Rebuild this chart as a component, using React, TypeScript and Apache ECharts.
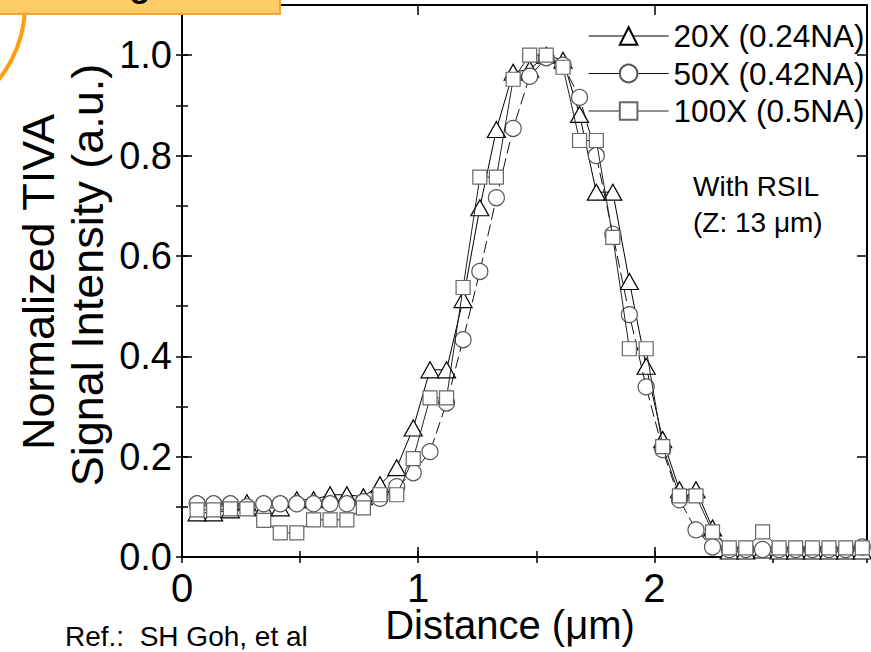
import React, { useEffect, useRef } from "react";
import * as echarts from "echarts";

// Distance positions (µm) shared by the three series
const distance = [
  0.064, 0.134, 0.205, 0.275, 0.346, 0.416, 0.486, 0.557, 0.627, 0.698,
  0.768, 0.838, 0.909, 0.979, 1.05, 1.12, 1.19, 1.261, 1.331, 1.402,
  1.472, 1.542, 1.613, 1.683, 1.754, 1.824, 1.894, 1.965, 2.035, 2.106,
  2.176, 2.246, 2.317, 2.387, 2.458, 2.528, 2.598, 2.669, 2.739, 2.81,
  2.88,
];

// 20X (0.24NA) – triangles
const na024 = [
  0.088, 0.088, 0.094, 0.108, 0.098, 0.098, 0.114, 0.114, 0.124, 0.124,
  0.12, 0.144, 0.178, 0.257, 0.373, 0.373, 0.513, 0.696, 0.852, 0.966,
  0.972, 1.0, 0.99, 0.882, 0.727, 0.727, 0.549, 0.38, 0.234, 0.134,
  0.134, 0.058, 0.012, 0.012, 0.014, 0.012, 0.012, 0.012, 0.012, 0.012,
  0.012,
];

// 50X (0.42NA) – circles
const na042 = [
  0.106, 0.106, 0.106, 0.1, 0.106, 0.106, 0.106, 0.106, 0.106, 0.106,
  0.11, 0.117, 0.14, 0.168, 0.21, 0.307, 0.433, 0.569, 0.716, 0.854,
  0.958, 0.995, 0.98, 0.916, 0.8, 0.643, 0.483, 0.339, 0.214, 0.114,
  0.054, 0.02, 0.015, 0.015, 0.015, 0.015, 0.015, 0.015, 0.015, 0.015,
  0.02,
];

// 100X (0.5NA) – squares
const na050 = [
  0.094, 0.094, 0.096, 0.096, 0.073, 0.048, 0.048, 0.074, 0.074, 0.074,
  0.098, 0.124, 0.124, 0.196, 0.317, 0.317, 0.537, 0.757, 0.757, 0.952,
  1.0, 1.0, 0.976, 0.83, 0.83, 0.637, 0.415, 0.415, 0.22, 0.122,
  0.122, 0.05, 0.018, 0.018, 0.05, 0.018, 0.018, 0.018, 0.018, 0.018,
  0.018,
];

const seriesNames = ["20X (0.24NA)", "50X (0.42NA)", "100X (0.5NA)"];
const yTickLabels = ["0.0", "0.2", "0.4", "0.6", "0.8", "1.0"];
const xTickLabels = ["0", "1", "2"];

const FONT = '"Liberation Sans", Arial, Helvetica, sans-serif';

export default function App() {
  const ref = useRef<HTMLDivElement>(null);

  useEffect(() => {
    if (!ref.current) return;
    const chart = echarts.init(ref.current, undefined, { renderer: "svg" });

    const pair = (ys: number[]) => distance.map((x, i) => [x, ys[i]]);

    const xCommon = {
      type: "value" as const,
      min: 0,
      max: 2.9,
      splitLine: { show: false },
    };
    const yCommon = {
      type: "value" as const,
      min: 0,
      max: 1.1,
      splitLine: { show: false },
    };
    const majorTick = { show: true, inside: true, length: 10, lineStyle: { color: "#000", width: 1.5 } };
    const minorTick = { show: true, inside: true, length: 6, lineStyle: { color: "#000", width: 1.5 } };
    const frameLine = { show: true, onZero: false, lineStyle: { color: "#000", width: 2 } };

    const option: any = {
      animation: false,
      backgroundColor: "#fff",
      grid: {
        left: 182,
        right: 4,
        top: 5,
        bottom: 95,
        containLabel: false,
        outerBoundsMode: "none",
      },
      legend: {
        data: seriesNames,
        orient: "vertical",
        left: 588,
        top: 19,
        padding: 0,
        itemWidth: 80,
        itemHeight: 22,
        itemGap: 3.5,
        selectedMode: false,
        lineStyle: { type: "solid", width: 1.2 },
        textStyle: { fontFamily: FONT, fontSize: 31.5, color: "#000", lineHeight: 34 },
      },
      xAxis: [
        {
          ...xCommon,
          position: "bottom",
          interval: 1,
          axisLine: frameLine,
          axisTick: majorTick,
          axisLabel: {
            margin: 11,
            fontFamily: FONT,
            fontSize: 40,
            color: "#000",
            formatter: (v: number) => {
              const idx = xTickLabels.indexOf(String(v));
              return idx >= 0 ? xTickLabels[idx] : "";
            },
          },
        },
        {
          ...xCommon,
          position: "bottom",
          interval: 0.5,
          axisLine: { show: false },
          axisTick: minorTick,
          axisLabel: { show: false },
        },
        {
          ...xCommon,
          position: "top",
          interval: 1,
          axisLine: frameLine,
          axisTick: majorTick,
          axisLabel: { show: false },
        },
        {
          ...xCommon,
          position: "top",
          interval: 0.5,
          axisLine: { show: false },
          axisTick: minorTick,
          axisLabel: { show: false },
        },
      ],
      yAxis: [
        {
          ...yCommon,
          position: "left",
          interval: 0.2,
          axisLine: frameLine,
          axisTick: majorTick,
          axisLabel: {
            margin: 10,
            fontFamily: FONT,
            fontSize: 38,
            color: "#000",
            formatter: (v: number) => {
              const s = v.toFixed(1);
              return yTickLabels.indexOf(s) >= 0 && v <= 1.05 ? s : "";
            },
          },
        },
        {
          ...yCommon,
          position: "left",
          interval: 0.1,
          axisLine: { show: false },
          axisTick: minorTick,
          axisLabel: { show: false },
        },
        {
          ...yCommon,
          position: "right",
          interval: 0.2,
          axisLine: frameLine,
          axisTick: majorTick,
          axisLabel: { show: false },
        },
        {
          ...yCommon,
          position: "right",
          interval: 0.1,
          axisLine: { show: false },
          axisTick: minorTick,
          axisLabel: { show: false },
        },
      ],
      series: [
        {
          name: seriesNames[0],
          type: "line",
          xAxisIndex: 0,
          yAxisIndex: 0,
          data: pair(na024),
          symbol: "triangle",
          symbolSize: [18, 16],
          itemStyle: { color: "#fff", borderColor: "#000", borderWidth: 1.2 },
          lineStyle: { color: "#000", width: 1 },
          emphasis: { disabled: true },
          silent: true,
          z: 2,
        },
        {
          name: seriesNames[1],
          type: "line",
          xAxisIndex: 0,
          yAxisIndex: 0,
          data: pair(na042),
          symbol: "circle",
          symbolSize: 16,
          itemStyle: { color: "#fff", borderColor: "#555", borderWidth: 1.2 },
          lineStyle: { color: "#111", width: 1, type: [12, 5] },
          emphasis: { disabled: true },
          silent: true,
          z: 3,
        },
        {
          name: seriesNames[2],
          type: "line",
          xAxisIndex: 0,
          yAxisIndex: 0,
          data: pair(na050),
          symbol: "rect",
          symbolSize: 14,
          itemStyle: { color: "#fff", borderColor: "#666", borderWidth: 1.2 },
          lineStyle: { color: "#222", width: 1 },
          emphasis: { disabled: true },
          silent: true,
          z: 4,
        },
      ],
      graphic: [
        {
          type: "circle",
          z: 10,
          silent: true,
          shape: { cx: -94, cy: 5, r: 119 },
          style: { fill: "none", stroke: "#FF9E0D", lineWidth: 4 },
        },
        {
          type: "rect",
          z: 11,
          silent: true,
          shape: { x: -5, y: -20, width: 285, height: 34 },
          style: { fill: "#FFCC66", stroke: "#F5A432", lineWidth: 2 },
        },
        {
          type: "text",
          z: 12,
          silent: true,
          x: 140,
          y: 2,
          style: {
            text: "g",
            fontFamily: FONT,
            fontSize: 34,
            fontWeight: "bold",
            fill: "#000",
            align: "center",
            verticalAlign: "bottom",
            textAlign: "center",
            textVerticalAlign: "bottom",
          },
        },
        {
          type: "text",
          z: 12,
          silent: true,
          x: 38,
          y: 282,
          rotation: Math.PI / 2,
          style: {
            text: "Normalized TIVA",
            fontFamily: FONT,
            fontSize: 45,
            fill: "#000",
            align: "center",
            verticalAlign: "middle",
            textAlign: "center",
            textVerticalAlign: "middle",
          },
        },
        {
          type: "text",
          z: 12,
          silent: true,
          x: 87,
          y: 275,
          rotation: Math.PI / 2,
          style: {
            text: "Signal Intensity (a.u.)",
            fontFamily: FONT,
            fontSize: 45,
            fill: "#000",
            align: "center",
            verticalAlign: "middle",
            textAlign: "center",
            textVerticalAlign: "middle",
          },
        },
        {
          type: "text",
          z: 12,
          silent: true,
          x: 510,
          y: 625,
          style: {
            text: "Distance (\u03bcm)",
            fontFamily: FONT,
            fontSize: 40,
            fill: "#000",
            align: "center",
            verticalAlign: "middle",
            textAlign: "center",
            textVerticalAlign: "middle",
          },
        },
        {
          type: "text",
          z: 12,
          silent: true,
          x: 65,
          y: 636,
          style: {
            text: "Ref.:  SH Goh, et al",
            fontFamily: FONT,
            fontSize: 28,
            fill: "#000",
            align: "left",
            verticalAlign: "middle",
            textAlign: "left",
            textVerticalAlign: "middle",
          },
        },
        {
          type: "text",
          z: 12,
          silent: true,
          x: 693,
          y: 186,
          style: {
            text: "With RSIL",
            fontFamily: FONT,
            fontSize: 28,
            fill: "#000",
            align: "left",
            verticalAlign: "middle",
            textAlign: "left",
            textVerticalAlign: "middle",
          },
        },
        {
          type: "text",
          z: 12,
          silent: true,
          x: 693,
          y: 222,
          style: {
            text: "(Z: 13 \u03bcm)",
            fontFamily: FONT,
            fontSize: 28,
            fill: "#000",
            align: "left",
            verticalAlign: "middle",
            textAlign: "left",
            textVerticalAlign: "middle",
          },
        },
      ],
    };

    chart.setOption(option);
    return () => {
      chart.dispose();
    };
  }, []);

  return (
    <div
      ref={ref}
      style={{ position: "absolute", left: 0, top: 0, width: 871, height: 652, background: "#fff" }}
    />
  );
}
